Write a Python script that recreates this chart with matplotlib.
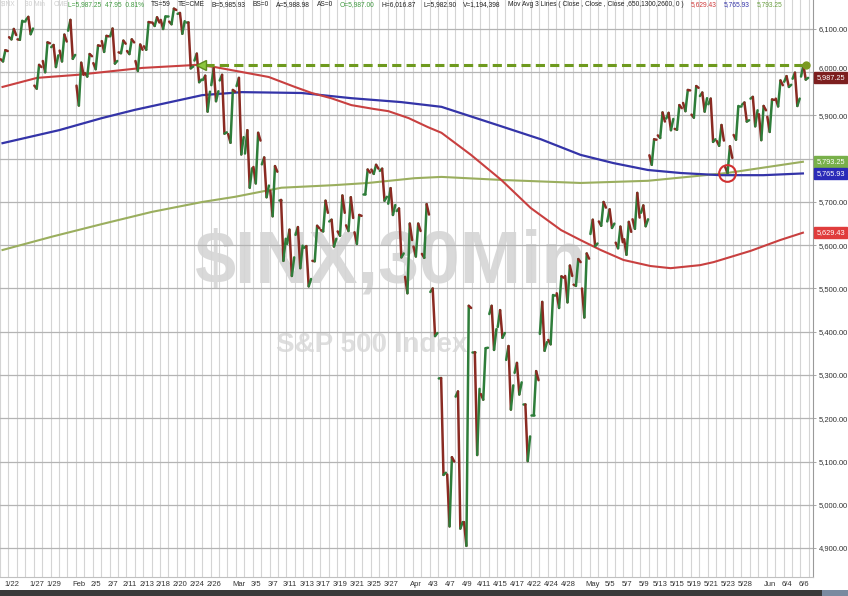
import numpy as np
import matplotlib
matplotlib.use("Agg")
import matplotlib.pyplot as plt
from matplotlib.collections import LineCollection
from matplotlib.patches import Rectangle
import matplotlib.transforms as mtransforms

plt.rcParams['font.family'] = ['Liberation Sans', 'DejaVu Sans']

# ---------------- data ----------------
dates = ['1/21', '1/22', '1/23', '1/24', '1/27', '1/28', '1/29', '1/30', '1/31',
         '2/3', '2/4', '2/5', '2/6', '2/7', '2/10', '2/11', '2/12', '2/13', '2/14',
         '2/18', '2/19', '2/20', '2/21', '2/24', '2/25', '2/26', '2/27', '2/28',
         '3/3', '3/4', '3/5', '3/6', '3/7', '3/10', '3/11', '3/12', '3/13', '3/14',
         '3/17', '3/18', '3/19', '3/20', '3/21', '3/24', '3/25', '3/26', '3/27', '3/28', '3/31',
         '4/1', '4/2', '4/3', '4/4', '4/7', '4/8', '4/9', '4/10', '4/11', '4/14', '4/15',
         '4/16', '4/17', '4/21', '4/22', '4/23', '4/24', '4/25', '4/28', '4/29', '4/30',
         '5/1', '5/2', '5/5', '5/6', '5/7', '5/8', '5/9', '5/12', '5/13', '5/14', '5/15',
         '5/16', '5/19', '5/20', '5/21', '5/22', '5/23', '5/27', '5/28', '5/29', '5/30',
         '6/2', '6/3', '6/4', '6/5', '6/6']
opens = [6030, 6081, 6076, 6121, 5969, 6026, 6058, 6050, 6096,
         5969, 5998, 6021, 6072, 6083, 6046, 6049, 6026, 6060, 6115,
         6121, 6117, 6135, 6115, 6027, 5982, 5970, 5981, 5857,
         5968, 5812, 5781, 5787, 5726, 5705, 5603, 5624, 5594, 5564,
         5635, 5655, 5632, 5646, 5630, 5718, 5775, 5772, 5696, 5679, 5527,
         5597, 5580, 5492, 5292, 5070, 5250, 4960, 5353, 5256, 5441, 5411,
         5335, 5305, 5232, 5207, 5395, 5381, 5489, 5529, 5509, 5500,
         5626, 5655, 5655, 5606, 5614, 5660, 5675, 5808, 5854, 5893, 5869,
         5929, 5902, 5945, 5926, 5841, 5781, 5855, 5925, 5939, 5903,
         5897, 5939, 5978, 5985, 5990]
highs = [6051, 6100, 6119, 6128, 6017, 6069, 6063, 6087, 6121,
         6022, 6042, 6062, 6084, 6101, 6073, 6076, 6064, 6116, 6127,
         6129, 6147, 6137, 6115, 6043, 5992, 6009, 5994, 5959,
         5987, 5866, 5860, 5803, 5783, 5705, 5636, 5642, 5598, 5645,
         5703, 5659, 5715, 5711, 5670, 5775, 5786, 5777, 5732, 5685, 5650,
         5650, 5695, 5500, 5293, 5110, 5262, 5460, 5353, 5362, 5460, 5450,
         5367, 5328, 5232, 5309, 5469, 5485, 5528, 5553, 5568, 5581,
         5659, 5700, 5683, 5643, 5654, 5721, 5692, 5845, 5907, 5906, 5924,
         5959, 5968, 5953, 5939, 5878, 5829, 5922, 5930, 5943, 5922,
         5937, 5981, 5991, 5999, 6017]
lows = [6025, 6076, 6075, 6088, 5962, 6000, 6012, 6025, 6031,
        5923, 5990, 6007, 6047, 6020, 6044, 6042, 6003, 6052, 6107,
        6100, 6111, 6089, 6009, 5977, 5909, 5933, 5858, 5837,
        5810, 5733, 5743, 5711, 5667, 5564, 5529, 5547, 5505, 5563,
        5632, 5597, 5622, 5633, 5603, 5718, 5765, 5703, 5670, 5572, 5489,
        5574, 5571, 5390, 5069, 4950, 4945, 4905, 5115, 5243, 5358, 5386,
        5220, 5255, 5101, 5207, 5356, 5371, 5455, 5468, 5506, 5433,
        5598, 5645, 5640, 5593, 5578, 5638, 5644, 5786, 5848, 5866, 5867,
        5910, 5895, 5909, 5839, 5830, 5767, 5844, 5886, 5875, 5843,
        5862, 5921, 5966, 5922, 5983]
closes = [6049, 6086, 6119, 6101, 6012, 6067, 6039, 6071, 6040,
          5994, 6037, 6061, 6083, 6026, 6066, 6069, 6052, 6115, 6115,
          6129, 6144, 6118, 6013, 5983, 5955, 5956, 5861, 5955,
          5850, 5778, 5842, 5738, 5770, 5615, 5572, 5599, 5522, 5639,
          5675, 5615, 5675, 5663, 5668, 5768, 5777, 5712, 5693, 5581, 5612,
          5633, 5671, 5397, 5074, 5100, 4960, 5455, 5268, 5363, 5406, 5397,
          5276, 5283, 5158, 5288, 5376, 5485, 5525, 5529, 5561, 5569,
          5604, 5687, 5650, 5607, 5631, 5664, 5660, 5844, 5886, 5892, 5917,
          5958, 5964, 5940, 5845, 5842, 5802, 5922, 5889, 5912, 5912,
          5936, 5970, 5971, 5939, 5987]

# moving averages (trading-day position, value)
ma50_day = [-0.7, 3.4, 8.2, 15.9, 22.4, 24.5, 30.9, 34.0, 36.0, 38.3, 40.7, 43.4, 45.1,
            47.5, 49.8, 51.4, 54.9, 58.5, 62.0, 65.6, 67.9, 70.3, 73.0, 76.2, 78.6,
            82.1, 83.7, 88.1, 91.6, 94.3]
ma50_val = [5966, 5987, 5994, 6010, 6017, 6012, 5989, 5966, 5952, 5940, 5924, 5915, 5910,
            5894, 5873, 5860, 5809, 5751, 5686, 5635, 5612, 5589, 5566, 5552, 5547,
            5554, 5561, 5587, 5612, 5629]
ma100_day = [-0.7, 6.0, 11.1, 15.0, 23.0, 27.7, 34.8, 40.7, 46.6, 51.4, 58.5, 63.2, 67.9,
             71.8, 75.9, 79.8, 84.5, 89.6, 94.3]
ma100_val = [5836, 5866, 5894, 5913, 5947, 5954, 5952, 5940, 5931, 5920, 5875, 5845, 5809,
             5790, 5774, 5767, 5762, 5762, 5766]
ma200_day = [-0.7, 5.2, 11.1, 17.0, 23.0, 26.9, 32.4, 38.7, 42.7, 48.2, 51.4, 58.5, 67.9,
             75.9, 85.3, 94.3]
ma200_val = [5589, 5620, 5649, 5677, 5700, 5712, 5733, 5739, 5744, 5755, 5758, 5751, 5744,
             5749, 5767, 5793]

tick_labels = ['1/22', '1/27', '1/29', 'Feb', '2/5', '2/7', '2/11', '2/13', '2/18', '2/20',
               '2/24', '2/26', 'Mar', '3/5', '3/7', '3/11', '3/13', '3/17', '3/19', '3/21',
               '3/25', '3/27', 'Apr', '4/3', '4/7', '4/9', '4/11', '4/15', '4/17', '4/22',
               '4/24', '4/28', 'May', '5/5', '5/7', '5/9', '5/13', '5/15', '5/19', '5/21',
               '5/23', '5/28', 'Jun', '6/4', '6/6']
tick_dates = ['1/22', '1/27', '1/29', '2/3', '2/5', '2/7', '2/11', '2/13', '2/18', '2/20',
              '2/24', '2/26', '3/3', '3/5', '3/7', '3/11', '3/13', '3/17', '3/19', '3/21',
              '3/25', '3/27', '4/1', '4/3', '4/7', '4/9', '4/11', '4/15', '4/17', '4/22',
              '4/24', '4/28', '5/1', '5/5', '5/7', '5/9', '5/13', '5/15', '5/19', '5/21',
              '5/23', '5/28', '6/2', '6/4', '6/6']
y_ticks = [4900, 5000, 5100, 5200, 5300, 5400, 5500, 5600, 5700, 5800, 5900, 6000, 6100]
hidden_ticks = [5800]     # covered by the MA flags in the reference

resistance = 6017          # dashed horizontal level
last_price = 5987.25
ma_last = {'50': 5629.43, '100': 5765.93, '200': 5793.25}
cross_day, cross_val = 85.3, 5767

header_faded = ['$INX', '30 Min', 'CME']
header_parts = [('L=5,987.25  47.95  0.81%', '#3f9a3f'), ('TS=59', '#222222'),
                ('TE=CME', '#222222'), ('B=5,985.93', '#222222'), ('BS=0', '#222222'),
                ('A=5,988.98', '#222222'), ('AS=0', '#222222'), ('O=5,987.00', '#3f9a3f'),
                ('H=6,016.87', '#222222'), ('L=5,982.90', '#222222'),
                ('V=1,194,398', '#222222'),
                ('Mov Avg 3 Lines ( Close , Close , Close ,650,1300,2600, 0 )', '#222222'),
                ('5,629.43', '#d03a3a'), ('5,765.93', '#3434a8'), ('5,793.25', '#6aa040')]

# ---------------- figure ----------------
W, H = 848, 596
fig = plt.figure(figsize=(W / 100, H / 100), dpi=100)
ax = fig.add_axes([0, 19 / H, 813 / W, 577 / H])
ax.set_xlim(-0.71, 95.5)
ax.set_ylim(4833, 6167)

day_pos = np.arange(len(dates)) - 1  # 1/22 is day 0

# grid
ax.set_xticks(np.arange(-1, 96), minor=True)
ax.grid(which='minor', axis='x', color='#d4d4d4', lw=0.8, zorder=0)
ax.set_yticks(y_ticks)
ax.grid(which='major', axis='y', color='#b4b4b4', lw=0.9, zorder=0)

# watermark
ax.text(0.481, 0.545, '$INX,30Min', transform=ax.transAxes, ha='center', va='center',
        fontsize=53, fontweight='bold', color='#d9d9d9', zorder=0.5)
ax.text(0.457, 0.402, 'S&P 500 Index', transform=ax.transAxes, ha='center', va='center',
        fontsize=20, fontweight='bold', color='#dedede', zorder=0.5)

# moving averages
ax.plot(ma200_day, ma200_val, color='#9aae5e', lw=1.5, zorder=2)
ax.plot(ma100_day, ma100_val, color='#3434a8', lw=1.6, zorder=2)
ax.plot(ma50_day, ma50_val, color='#c84040', lw=1.5, zorder=2)

# price path: each day drawn O -> extreme -> extreme -> C
segs, cols = [], []
frac = np.array([0.08, 0.36, 0.64, 0.92])
for d, o, h, l, c in zip(day_pos, opens, highs, lows, closes):
    ys = [o, l, h, c] if c >= o else [o, h, l, c]
    xs = d + frac
    for k in range(3):
        segs.append([(xs[k], ys[k]), (xs[k + 1], ys[k + 1])])
        cols.append('#2e7d3a' if ys[k + 1] >= ys[k] else '#8a2a22')
lc = LineCollection(segs, colors=cols, linewidths=1.8, zorder=3, capstyle='round')
ax.add_collection(lc)

# dashed resistance line with arrow and dot
ax.plot([23.3, 94.7], [resistance, resistance], color='#6e9a1e', lw=2.2,
        dashes=(3, 1.7), zorder=4)
ax.plot([22.9], [resistance], marker='<', ms=7, color='#8cc63f', mec='#5e8a1e', zorder=5)
ax.plot([94.7], [resistance], marker='o', ms=5, color='#7a9a20', zorder=5)

# red circle at the crossover
ax.plot([cross_day], [cross_val], marker='o', ms=12, mfc='none', mec='#d03030', mew=1.5,
        zorder=5)

# axes styling
for s in ['left', 'top']:
    ax.spines[s].set_visible(False)
ax.spines['right'].set_color('#9a9a9a')
ax.spines['bottom'].set_color('#c0c0c0')
ax.yaxis.tick_right()
ax.set_yticklabels(['' if v in hidden_ticks else f'{v:,.2f}' for v in y_ticks])
ax.tick_params(axis='y', which='major', length=2, width=0.6, color='#9a9a9a', pad=2,
               labelsize=5.5, labelcolor='#333333')
for lab, v in zip(ax.get_yticklabels(), y_ticks):
    if v == 6000:
        lab.set_va('bottom')   # sits just above the last-price flag, as in the reference
idx = {d: i - 1 for i, d in enumerate(dates)}
ax.set_xticks([idx[d] + 0.4 for d in tick_dates])
ax.set_xticklabels(tick_labels)
ax.tick_params(axis='x', which='both', length=0, pad=3, labelsize=5.5, labelcolor='#333333')

# value flags on the right axis
blend = mtransforms.blended_transform_factory(ax.transAxes, ax.transData)
flags = [(last_price, '#7d1f1f', 'white'),
         (ma_last['200'], '#78b04a', 'white'),
         (ma_last['100'], '#2a2ab8', 'white'),
         (ma_last['50'], '#e03c3c', 'white')]
for val, fc, tc in flags:
    ax.text(1.004, val, f'{val:,.2f}', transform=blend, ha='left', va='center',
            fontsize=5.3, color=tc, clip_on=False, zorder=10,
            bbox=dict(boxstyle='square,pad=0.25', fc=fc, ec=fc))

# header line, laid out left to right
hy = 1 - 4.5 / H
renderer = fig.canvas.get_renderer()
x = 1.0
for s in header_faded:
    t = fig.text(x / W, hy, s, fontsize=4.8, color='#cfcfcf', ha='left', va='center')
    x = t.get_window_extent(renderer).x1 + 9
x = 68.0
for s, c in header_parts:
    t = fig.text(x / W, hy, s, fontsize=4.8, color=c, ha='left', va='center')
    x = t.get_window_extent(renderer).x1 + 7

# bottom strip
fig.patches.append(Rectangle((0, 0), 1, 6 / H, transform=fig.transFigure,
                             fc='#3a3a3a', ec='none', zorder=0))
fig.patches.append(Rectangle((822 / W, 0), 26 / W, 6 / H, transform=fig.transFigure,
                             fc='#7a8aa0', ec='none', zorder=0))

fig.savefig('out.png', dpi=100)
